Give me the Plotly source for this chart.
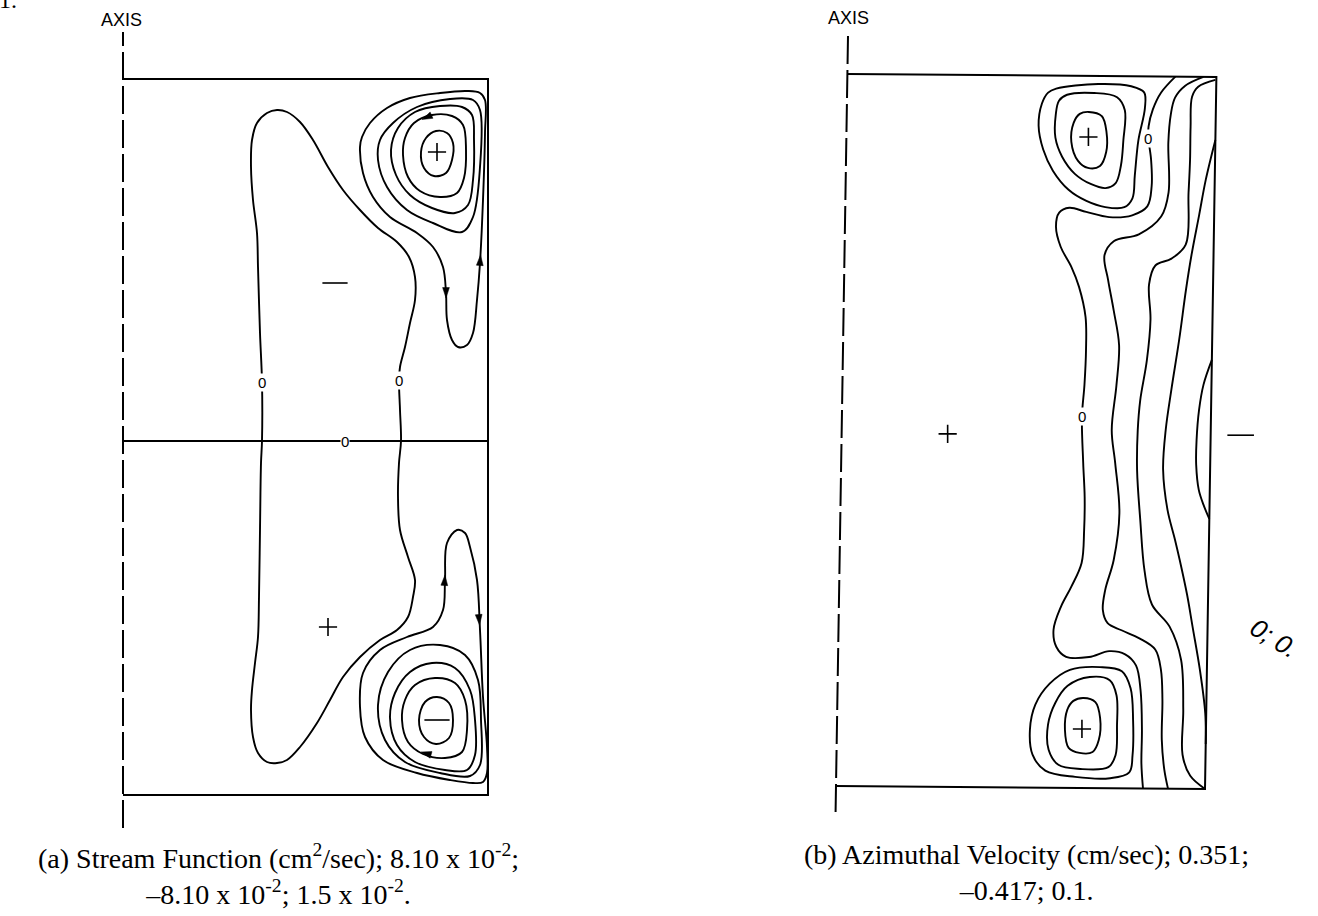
import math
import plotly.graph_objects as go

# ---------------------------------------------------------------------------
# Cylinder geometry (cm); r measured from the axis, z from the bottom lid
# ---------------------------------------------------------------------------
RADIUS_A, HEIGHT_A, MIDPLANE_A = 3.65, 7.16, 3.54
RADIUS_B, HEIGHT_B = 3.69, 7.12
AXIS_EXTENT_A = (-0.33, 7.63)
AXIS_EXTENT_B = (-0.26, 7.56)

# ---------------------------------------------------------------------------
# (a) Stream function contours, (r, z) pairs in cm
# ---------------------------------------------------------------------------
psi_zero = [(1.39, 3.54), (1.39, 4.13), (1.37, 4.62), (1.35, 5.28), (1.34, 5.62), (1.30, 5.95),
            (1.28, 6.28), (1.29, 6.55), (1.34, 6.72), (1.44, 6.82), (1.54, 6.85), (1.64, 6.83),
            (1.77, 6.73), (1.90, 6.55), (2.05, 6.28), (2.20, 6.05), (2.37, 5.85), (2.55, 5.67),
            (2.74, 5.53), (2.86, 5.38), (2.92, 5.18), (2.92, 4.95), (2.87, 4.72), (2.82, 4.48),
            (2.77, 4.28), (2.76, 4.15), (2.77, 3.85), (2.78, 3.54), (2.76, 3.32), (2.75, 2.98),
            (2.77, 2.65), (2.85, 2.38), (2.92, 2.15), (2.90, 1.98), (2.85, 1.78), (2.74, 1.65),
            (2.57, 1.55), (2.37, 1.38), (2.20, 1.18), (2.07, 0.95), (1.94, 0.72), (1.77, 0.48),
            (1.64, 0.35), (1.54, 0.32), (1.44, 0.33), (1.35, 0.42), (1.30, 0.58), (1.28, 0.85),
            (1.29, 1.05), (1.32, 1.32), (1.35, 1.58), (1.36, 1.98), (1.37, 2.65), (1.38, 3.32)]

psi_upper_cell = [
    # outermost loop with the tongue along the wall
    [(3.60, 5.95), (3.62, 6.62), (3.62, 6.95), (3.57, 7.02), (3.44, 7.04), (3.17, 7.02),
     (2.87, 6.97), (2.64, 6.87), (2.47, 6.72), (2.39, 6.58), (2.37, 6.48), (2.40, 6.22),
     (2.50, 5.98), (2.67, 5.78), (2.94, 5.62), (3.10, 5.48), (3.20, 5.28), (3.23, 5.02),
     (3.24, 4.75), (3.29, 4.55), (3.35, 4.48), (3.44, 4.50), (3.50, 4.62), (3.54, 4.95),
     (3.57, 5.32)],
    [(3.57, 6.28), (3.57, 6.85), (3.50, 6.95), (3.27, 6.96), (2.94, 6.88), (2.70, 6.72),
     (2.57, 6.55), (2.55, 6.35), (2.64, 6.08), (2.84, 5.85), (3.10, 5.72), (3.39, 5.63),
     (3.50, 5.78)],
    [(3.51, 6.55), (3.49, 6.80), (3.39, 6.88), (3.17, 6.89), (2.92, 6.83), (2.75, 6.67),
     (2.68, 6.45), (2.73, 6.20), (2.87, 6.00), (3.09, 5.87), (3.32, 5.82), (3.45, 5.90),
     (3.50, 6.15)],
    [(3.43, 6.45), (3.40, 6.70), (3.29, 6.79), (3.09, 6.80), (2.91, 6.72), (2.82, 6.57),
     (2.80, 6.40), (2.85, 6.18), (2.97, 6.04), (3.17, 5.98), (3.34, 6.02), (3.41, 6.17)],
    [(3.30, 6.52), (3.24, 6.62), (3.13, 6.64), (3.03, 6.57), (2.98, 6.43), (3.01, 6.27),
     (3.11, 6.19), (3.23, 6.22), (3.29, 6.35)],
]

psi_lower_cell = [
    [(3.60, 0.98), (3.57, 1.65), (3.54, 2.15), (3.47, 2.48), (3.42, 2.62), (3.34, 2.65),
     (3.24, 2.52), (3.22, 2.15), (3.20, 1.85), (3.10, 1.68), (2.84, 1.58), (2.57, 1.45),
     (2.40, 1.22), (2.37, 0.88), (2.42, 0.58), (2.60, 0.35), (2.94, 0.22), (3.27, 0.15),
     (3.50, 0.12), (3.60, 0.13), (3.64, 0.22), (3.64, 0.48)],
    [(3.58, 0.75), (3.55, 1.15), (3.42, 1.40), (3.17, 1.50), (2.87, 1.45), (2.65, 1.23),
     (2.55, 0.90), (2.62, 0.55), (2.82, 0.33), (3.17, 0.22), (3.47, 0.19), (3.57, 0.30)],
    [(3.52, 0.75), (3.47, 1.05), (3.32, 1.27), (3.09, 1.32), (2.87, 1.23), (2.72, 1.02),
     (2.67, 0.77), (2.74, 0.50), (2.92, 0.33), (3.22, 0.25), (3.44, 0.25), (3.52, 0.40)],
    [(3.44, 0.65), (3.42, 0.95), (3.32, 1.12), (3.12, 1.17), (2.92, 1.10), (2.82, 0.95),
     (2.79, 0.75), (2.85, 0.53), (3.00, 0.41), (3.22, 0.37), (3.39, 0.43)],
    [(3.30, 0.75), (3.26, 0.92), (3.14, 0.98), (3.02, 0.93), (2.96, 0.75), (3.01, 0.58),
     (3.13, 0.51), (3.26, 0.57)],
]

# flow direction along the contours: (head, tail)
psi_arrows = [((2.99, 6.755), (3.09, 6.80)),
              ((3.23, 4.97), (3.23, 5.10)),
              ((3.575, 5.40), (3.565, 5.25)),
              ((2.98, 0.43), (3.12, 0.39)),
              ((3.22, 2.20), (3.21, 2.05)),
              ((3.565, 1.70), (3.555, 1.83))]

psi_zero_marks = [(1.39, 4.13), (2.76, 4.15), (2.22, MIDPLANE_A)]
psi_plus = [(3.14, 6.43), (2.05, 1.68)]
psi_minus = [(2.12, 5.12), (3.14, 0.75)]

# ---------------------------------------------------------------------------
# (b) Azimuthal velocity contours, (r, z) pairs in cm
# ---------------------------------------------------------------------------
v_upper_cell = [
    [(2.42, 6.76), (2.55, 6.72), (2.60, 6.56), (2.60, 6.36), (2.54, 6.22), (2.42, 6.20),
     (2.32, 6.27), (2.25, 6.46), (2.27, 6.65), (2.33, 6.74)],
    [(2.20, 6.93), (2.47, 6.95), (2.70, 6.91), (2.78, 6.78), (2.77, 6.48), (2.75, 6.23),
     (2.70, 6.05), (2.60, 6.00), (2.45, 6.04), (2.29, 6.14), (2.16, 6.31), (2.09, 6.50),
     (2.09, 6.73), (2.12, 6.87)],
    [(2.09, 6.99), (2.51, 7.04), (2.84, 7.02), (2.97, 6.96), (2.98, 6.80), (2.92, 6.48),
     (2.89, 6.13), (2.87, 5.90), (2.79, 5.81), (2.60, 5.81), (2.41, 5.87), (2.23, 5.98),
     (2.07, 6.17), (1.97, 6.38), (1.92, 6.62), (1.95, 6.84), (2.01, 6.95)],
]

v_lower_cell = [
    [(2.46, 0.90), (2.58, 0.86), (2.63, 0.70), (2.62, 0.48), (2.56, 0.36), (2.43, 0.35),
     (2.32, 0.40), (2.28, 0.58), (2.30, 0.78), (2.36, 0.87)],
    [(2.52, 1.11), (2.72, 1.08), (2.79, 0.93), (2.80, 0.63), (2.79, 0.33), (2.72, 0.21),
     (2.44, 0.19), (2.22, 0.23), (2.12, 0.38), (2.11, 0.63), (2.18, 0.85), (2.30, 1.02)],
    [(2.32, 1.18), (2.62, 1.21), (2.84, 1.17), (2.93, 1.00), (2.96, 0.68), (2.96, 0.33),
     (2.93, 0.16), (2.74, 0.10), (2.39, 0.11), (2.09, 0.17), (1.96, 0.33), (1.93, 0.58),
     (1.98, 0.83), (2.12, 1.04)],
]

v_zero = [(3.28, 7.12), (3.14, 6.96), (3.06, 6.79), (3.02, 6.62), (3.02, 6.50), (3.05, 6.29),
          (3.06, 6.02), (3.02, 5.82), (2.87, 5.73), (2.64, 5.71), (2.41, 5.76), (2.24, 5.80),
          (2.14, 5.75), (2.11, 5.61), (2.16, 5.41), (2.27, 5.21), (2.35, 5.01), (2.42, 4.71),
          (2.43, 4.38), (2.42, 4.03), (2.40, 3.71), (2.42, 3.25), (2.44, 2.91), (2.44, 2.58),
          (2.42, 2.25), (2.32, 2.01), (2.22, 1.81), (2.15, 1.58), (2.18, 1.41), (2.28, 1.31),
          (2.51, 1.31), (2.71, 1.37), (2.87, 1.34), (2.98, 1.23), (3.03, 0.98), (3.05, 0.58),
          (3.05, 0.25), (3.07, 0.00)]

v_wall_side = [
    [(3.56, 7.12), (3.38, 7.03), (3.28, 6.91), (3.24, 6.74), (3.22, 6.46), (3.23, 5.96),
     (3.16, 5.72), (2.94, 5.54), (2.69, 5.47), (2.60, 5.33), (2.64, 5.08), (2.70, 4.78),
     (2.76, 4.43), (2.74, 4.03), (2.70, 3.58), (2.74, 3.25), (2.79, 2.75), (2.74, 2.28),
     (2.66, 1.98), (2.64, 1.78), (2.69, 1.65), (2.83, 1.58), (3.01, 1.50), (3.17, 1.39),
     (3.23, 1.19), (3.25, 0.89), (3.25, 0.49), (3.28, 0.19), (3.32, 0.00)],
    [(3.68, 7.09), (3.51, 7.02), (3.45, 6.92), (3.44, 6.62), (3.44, 6.29), (3.43, 5.96),
     (3.41, 5.44), (3.27, 5.30), (3.11, 5.23), (3.05, 5.04), (3.07, 4.69), (3.04, 4.28),
     (2.98, 3.88), (2.96, 3.58), (2.96, 3.18), (3.00, 2.68), (3.05, 2.18), (3.13, 1.84),
     (3.31, 1.62), (3.43, 1.29), (3.46, 0.79), (3.46, 0.34), (3.54, 0.13), (3.69, 0.00)],
    [(3.69, 6.49), (3.60, 6.09), (3.54, 5.74), (3.47, 5.34), (3.42, 4.99), (3.36, 4.49),
     (3.29, 3.99), (3.24, 3.59), (3.22, 3.19), (3.27, 2.79), (3.35, 2.49), (3.40, 2.29),
     (3.48, 1.94), (3.54, 1.62), (3.62, 1.19), (3.68, 0.76), (3.69, 0.45)],
    [(3.69, 4.29), (3.61, 4.04), (3.57, 3.79), (3.55, 3.49), (3.55, 3.24), (3.58, 2.99),
     (3.63, 2.84), (3.69, 2.70)],
]

v_zero_marks = [(3.02, 6.50), (2.40, 3.71)]
v_plus = [(2.42, 6.51), (2.45, 0.59), (1.06, 3.53)]
v_minus = [(3.99, 3.54)]

# Caption text (two lines each)
caption_a = ["(a) Stream Function (cm<sup>2</sup>/sec); 8.10 x 10<sup>-2</sup>;",
             "–8.10 x 10<sup>-2</sup>; 1.5 x 10<sup>-2</sup>."]
caption_b = ["(b) Azimuthal Velocity (cm/sec); 0.351;",
             "–0.417; 0.1."]

# ---------------------------------------------------------------------------
W, H = 1318, 916
INK = "black"
LINE_W = 1.9

# panel (b) sits on a slightly sheared frame
SHEAR_R, SHEAR_Z = 0.016, 0.008


def frame_b(r, z):
    return r + SHEAR_R * z, z - SHEAR_Z * r


def ident(r, z):
    return r, z


def px(x, y):
    return x / W, 1 - y / H


fig = go.Figure()


def add_curve(pts, axes, tf, closed=False, width=LINE_W, dash=None, shape="spline"):
    if closed:
        pts = list(pts) + [pts[0]]
    xs, ys = zip(*[tf(r, z) for r, z in pts])
    line = dict(color=INK, width=width, shape=shape)
    if shape == "spline":
        line["smoothing"] = 1.0
    if dash:
        line["dash"] = dash
    fig.add_trace(go.Scatter(x=xs, y=ys, mode="lines", line=line,
                             xaxis=axes[0], yaxis=axes[1], hoverinfo="skip"))


def add_marks(pts, axes, tf, symbol, size, angles=None, lw=1.6):
    if not pts:
        return
    xs, ys = zip(*[tf(r, z) for r, z in pts])
    marker = dict(symbol=symbol, size=size, color=INK, line=dict(color=INK, width=lw))
    if angles is not None:
        marker["angle"] = angles
    fig.add_trace(go.Scatter(x=xs, y=ys, mode="markers", xaxis=axes[0], yaxis=axes[1],
                             marker=marker, hoverinfo="skip"))


AX_A = ("x", "y")
AX_B = ("x2", "y2")

# ---- panel (a) -------------------------------------------------------------
add_curve([(0, HEIGHT_A), (RADIUS_A, HEIGHT_A), (RADIUS_A, 0), (0, 0)], AX_A, ident, shape="linear", width=2)
add_curve([(0, MIDPLANE_A), (RADIUS_A, MIDPLANE_A)], AX_A, ident, shape="linear", width=2)
add_curve([(0, AXIS_EXTENT_A[0]), (0, AXIS_EXTENT_A[1])], AX_A, ident, shape="linear", width=2,
          dash="28px,6px")
add_curve(psi_zero, AX_A, ident, closed=True)
for loop in psi_upper_cell + psi_lower_cell:
    add_curve(loop, AX_A, ident, closed=True)
add_marks(psi_plus, AX_A, ident, "cross-thin", 13)
add_marks(psi_minus, AX_A, ident, "line-ew", 18)

# arrowheads pointing along the flow (both axes use the same px-per-cm scale)
heads = [h for h, _ in psi_arrows]
angles = [math.degrees(math.atan2(h[0] - t[0], h[1] - t[1])) for h, t in psi_arrows]
add_marks(heads, AX_A, ident, "arrow", 11, angles=angles, lw=0.5)

# ---- panel (b) -------------------------------------------------------------
add_curve([(0, HEIGHT_B), (RADIUS_B, HEIGHT_B), (RADIUS_B, 0), (0, 0)], AX_B, frame_b, shape="linear", width=2)
add_curve([(0, AXIS_EXTENT_B[0]), (0, AXIS_EXTENT_B[1])], AX_B, frame_b, shape="linear", width=2,
          dash="28px,6px")
for loop in v_upper_cell + v_lower_cell:
    add_curve(loop, AX_B, frame_b, closed=True)
add_curve(v_zero, AX_B, frame_b)
for line in v_wall_side:
    add_curve(line, AX_B, frame_b)
add_marks(v_plus, AX_B, frame_b, "cross-thin", 13)
add_marks(v_minus, AX_B, frame_b, "line-ew", 19)

annotations = []

# zero-contour labels
for (r, z), refs, tf in ([(p, AX_A, ident) for p in psi_zero_marks] +
                         [(p, AX_B, frame_b) for p in v_zero_marks]):
    x, y = tf(r, z)
    annotations.append(dict(x=x, y=y, xref=refs[0], yref=refs[1], text="0", showarrow=False,
                            xanchor="center", yanchor="middle",
                            font=dict(family="Liberation Sans", size=15, color=INK),
                            bgcolor="white", borderpad=0))


def paper_text(text, x, y, font, angle=0, xanchor="center"):
    px_x, px_y = px(x, y)
    annotations.append(dict(x=px_x, y=px_y, xref="paper", yref="paper", text=text,
                            showarrow=False, font=font, textangle=angle, align="center",
                            xanchor=xanchor, yanchor="middle"))


# axis labels
axis_font = dict(family="Liberation Sans", size=18, color=INK)
paper_text("AXIS", 122, 20, axis_font)
paper_text("AXIS", 849, 18, axis_font)

# captions
serif = dict(family="Liberation Serif", size=28, color=INK)
paper_text("<br>".join(caption_a), 278, 874, serif)
paper_text("<br>".join(caption_b), 1026, 872, serif)

# figure number fragment at the top edge and the rotated side note
paper_text("1.", -3, 0, dict(family="Liberation Serif", size=24, color=INK), xanchor="left")
paper_text("<i>0; 0.</i>", 1274, 638, dict(family="Liberation Sans", size=26, color=INK), angle=32)

# axes: 100 px per cm in both panels
hidden = dict(visible=False, showgrid=False, zeroline=False, fixedrange=True)
fig.update_layout(
    width=W, height=H, margin=dict(l=0, r=0, t=0, b=0),
    paper_bgcolor="white", plot_bgcolor="white", showlegend=False, hovermode=False,
    xaxis=dict(domain=[0, 0.5], range=[-1.23, 5.36], **hidden),
    yaxis=dict(domain=[0, 1], range=[-1.21, 7.95], **hidden),
    xaxis2=dict(domain=[0.5, 1], range=[-1.77, 4.82], anchor="y2", **hidden),
    yaxis2=dict(domain=[0, 1], range=[-1.30, 7.86], anchor="x2", **hidden),
    annotations=annotations,
)

fig.write_html("out.html")
